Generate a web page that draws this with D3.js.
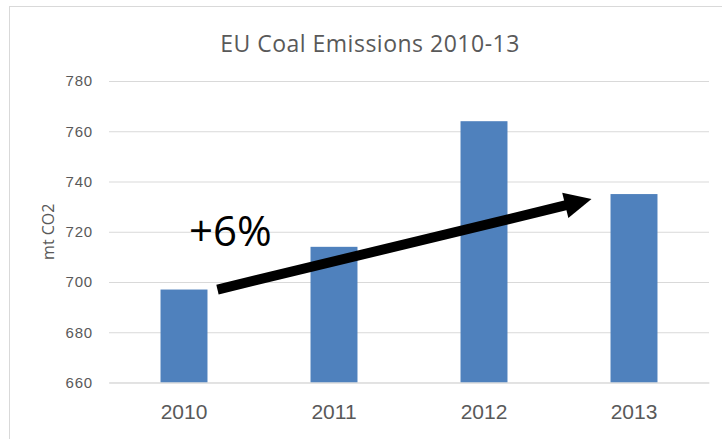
<!DOCTYPE html>
<html>
<head>
<meta charset="utf-8">
<script src="https://cdn.jsdelivr.net/npm/d3@7"></script>
<style>
  html, body { margin: 0; padding: 0; background: #fff; }
  svg { display: block; font-family: "Open Sans", "Noto Sans", sans-serif; }
</style>
</head>
<body>
<svg id="chart" width="722" height="439"></svg>
<script>
// EU coal emissions, million tonnes CO2
const years = ["2010", "2011", "2012", "2013"];
const emissions = [697, 714, 764, 735];
const yTicks = [660, 680, 700, 720, 740, 760, 780];
const yDomain = [660, 780];
const title = "EU Coal Emissions 2010-13";
const yTitle = "mt CO2";
// trend annotation: from the 2010 level up towards the 2013 level
const trendLabel = "+6%";
const trendFrom = { year: "2010", value: 697 };
const trendTo = { year: "2013", value: 733 };

const svg = d3.select("#chart");
const W = 722, H = 439;
const margin = { top: 81, right: 13, bottom: 56, left: 109 };

// chart frame
svg.append("rect")
  .attr("x", 9.5).attr("y", 6.5)
  .attr("width", W + 10).attr("height", H + 10)
  .attr("fill", "#fff").attr("stroke", "#d9d9d9").attr("stroke-width", 1);

const x = d3.scaleBand()
  .domain(years)
  .range([margin.left, W - margin.right])
  .paddingInner(0.687)
  .paddingOuter(0.3435);

const y = d3.scaleLinear()
  .domain(yDomain)
  .range([H - margin.bottom - 0.5, margin.top]);

// gridlines
const yAxis = d3.axisLeft(y)
  .tickValues(yTicks)
  .tickSize(-(W - margin.right - margin.left))
  .tickPadding(16)
  .tickFormat(d3.format("d"));

const gy = svg.append("g")
  .attr("transform", `translate(${margin.left},0)`)
  .call(yAxis);
gy.select(".domain").remove();
gy.selectAll(".tick line").attr("stroke", "#d9d9d9").attr("stroke-width", 1);
gy.selectAll(".tick text")
  .attr("fill", "#595959")
  .style("font-size", "15px")
  .style("letter-spacing", "0.8px");

// bars
svg.append("g").selectAll("rect")
  .data(years.map((yr, i) => ({ yr, v: emissions[i] })))
  .join("rect")
  .attr("x", d => x(d.yr))
  .attr("width", x.bandwidth())
  .attr("y", d => y(d.v))
  .attr("height", d => y(yDomain[0]) - y(d.v))
  .attr("fill", "#4f81bd");

// category axis
const xAxis = d3.axisBottom(x).tickSize(0).tickPadding(22);
const gx = svg.append("g")
  .attr("transform", `translate(0,${y(yDomain[0])})`)
  .call(xAxis);
gx.select(".domain").attr("stroke", "#d9d9d9");
gx.selectAll(".tick text")
  .attr("fill", "#595959")
  .style("font-size", "21px");

// title
svg.append("text")
  .attr("x", 370).attr("y", 52)
  .attr("text-anchor", "middle")
  .attr("fill", "#595959")
  .style("font-size", "23px")
  .style("letter-spacing", "0.5px")
  .text(title);

// y-axis title
svg.append("text")
  .attr("transform", `translate(54,${(y(yDomain[0]) + y(yDomain[1])) / 2}) rotate(-90)`)
  .attr("text-anchor", "middle")
  .attr("fill", "#595959")
  .style("font-size", "16px")
  .text(yTitle);

// trend arrow
const x0 = x(trendFrom.year) + x.bandwidth() + 10;
const y0 = y(trendFrom.value);
const x1 = x(trendTo.year) - 19;
const y1 = y(trendTo.value);
const ang = Math.atan2(y1 - y0, x1 - x0);
const headLen = 27, headHalf = 13, shaft = 10;
const ux = Math.cos(ang), uy = Math.sin(ang);
const px = -uy, py = ux;
const bx = x1 - ux * headLen, by = y1 - uy * headLen;

svg.append("line")
  .attr("x1", x0).attr("y1", y0)
  .attr("x2", bx + ux * 2).attr("y2", by + uy * 2)
  .attr("stroke", "#000").attr("stroke-width", shaft);

svg.append("path")
  .attr("d", d3.line()([
    [x1, y1],
    [bx + px * headHalf, by + py * headHalf],
    [bx - px * headHalf, by - py * headHalf]
  ]) + "Z")
  .attr("fill", "#000");

svg.append("text")
  .attr("x", 189).attr("y", 246)
  .attr("fill", "#000")
  .style("font-size", "42px")
  .text(trendLabel);
</script>
</body>
</html>
